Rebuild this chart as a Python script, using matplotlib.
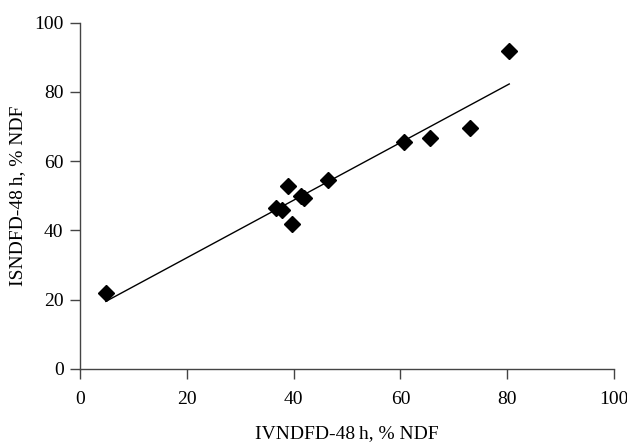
import matplotlib
matplotlib.use("Agg")
import matplotlib.pyplot as plt

# data
ivndfd = [4.8, 36.7, 37.9, 39.0, 39.6, 41.3, 41.9, 46.5, 60.6, 65.5, 73.0, 80.4]
isndfd = [21.9, 46.5, 45.8, 52.9, 41.9, 50.0, 49.3, 54.5, 65.6, 66.7, 69.5, 91.9]

# regression line end points
fit_x = [4.8, 80.4]
fit_y = [19.5, 82.3]

ticks = [0, 20, 40, 60, 80, 100]

plt.rcParams['font.family'] = ['Liberation Serif', 'DejaVu Serif']

fig = plt.figure(figsize=(6.27, 4.45), dpi=100)
ax = fig.add_axes([0.128, 0.171, 0.851, 0.778])

ax.plot(fit_x, fit_y, color='black', linewidth=1.0)
ax.plot(ivndfd, isndfd, linestyle='none', marker='D', markersize=8,
        color='black')

ax.set_xlim(0, 100)
ax.set_ylim(0, 100)
ax.set_xticks(ticks)
ax.set_yticks(ticks)
ax.tick_params(direction='out', length=7, width=1, color='#444444',
               labelsize=14, pad=5)
ax.tick_params(axis='x', pad=9)

for s in ['top', 'right']:
    ax.spines[s].set_visible(False)
for s in ['left', 'bottom']:
    ax.spines[s].set_color('#444444')
    ax.spines[s].set_linewidth(1)

ax.set_xlabel('IVNDFD-48\u2009h, % NDF', fontsize=14, labelpad=12)
ax.set_ylabel('ISNDFD-48\u2009h, % NDF', fontsize=14, labelpad=5.5)

fig.savefig('out.png', dpi=100)
